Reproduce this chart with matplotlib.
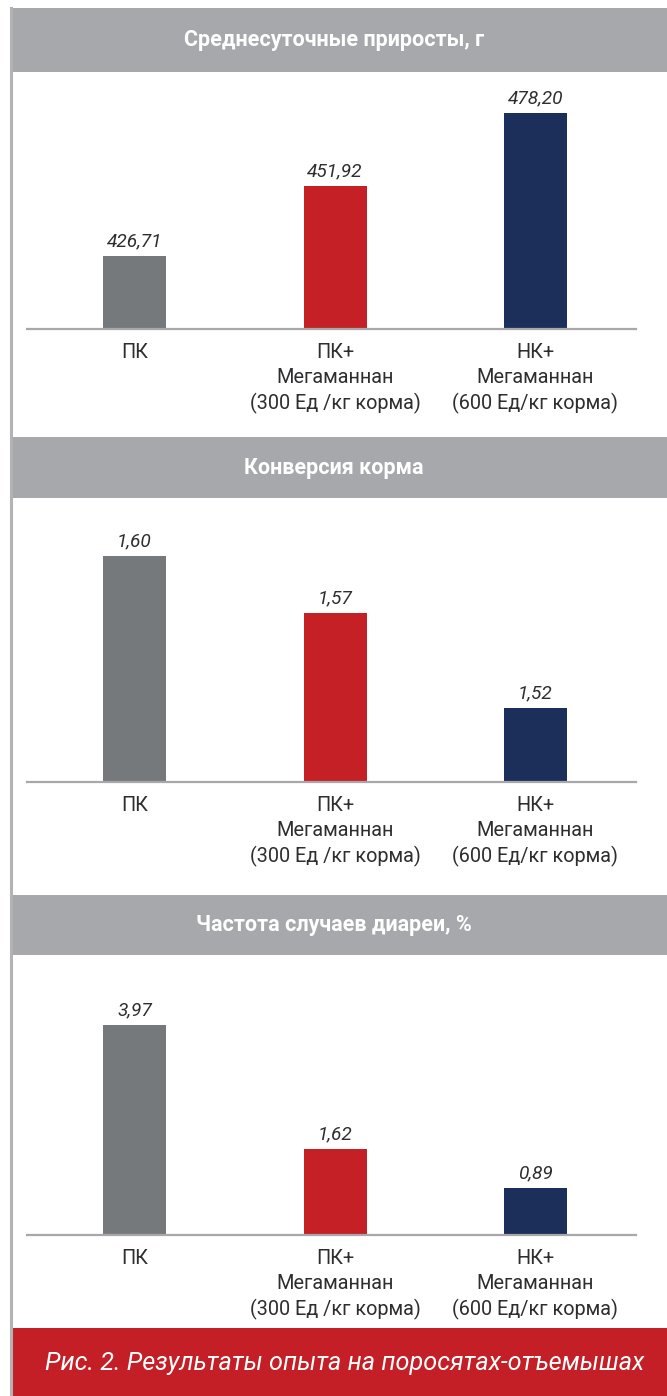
import matplotlib
matplotlib.use("Agg")
import matplotlib.pyplot as plt
from matplotlib.patches import Rectangle
from matplotlib.lines import Line2D

# ---- data ----
categories = ["ПК", "ПК+\nМегаманнан\n(300 Ед /кг корма)", "НК+\nМегаманнан\n(600 Ед/кг корма)"]
titles = ["Среднесуточные приросты, г", "Конверсия корма", "Частота случаев диареи, %"]
gain_values = [426.71, 451.92, 478.20]
conversion_values = [1.60, 1.57, 1.52]
diarrhea_values = [3.97, 1.62, 0.89]
value_labels = [["426,71", "451,92", "478,20"],
                ["1,60", "1,57", "1,52"],
                ["3,97", "1,62", "0,89"]]
caption = "Рис. 2. Результаты опыта на поросятах-отъемышах"

bar_colors = ["#76797c", "#c42026", "#1c2f5a"]
header_color = "#a7a8ab"
text_color = "#2e2e30"

W, H = 667, 1396
fig = plt.figure(figsize=(W / 100, H / 100), dpi=100)
fig.patch.set_facecolor("white")

def fx(px):
    return px / W

def fy(py):
    return 1 - py / H

# left vertical rule
fig.add_artist(Line2D([fx(11), fx(11)], [fy(8), fy(1396)], color="#b3b3b6", lw=2.2))

# header bands (px top, px bottom)
headers = [(8, 72), (437, 498), (895, 955)]
for (t, b), title in zip(headers, titles):
    fig.add_artist(Rectangle((fx(12), fy(b)), fx(667) - fx(12), fy(t) - fy(b),
                             transform=fig.transFigure, facecolor=header_color,
                             edgecolor="none"))
    fig.text(fx(334), fy((t + b) / 2), title, ha="center", va="center",
             color="white", fontsize=15.5, fontweight="bold", family="Roboto")

# caption band
fig.add_artist(Rectangle((fx(12), fy(1396)), fx(667) - fx(12), fy(1328) - fy(1396),
                         transform=fig.transFigure, facecolor="#c41f26", edgecolor="none"))
fig.text(fx(345), fy(1363), caption, ha="center", va="center", color="white",
         fontsize=18.2, style="italic", family="Roboto")

# panels: (top px, baseline px, values, ylim)
panels = [
    (72, 329, gain_values, (400.4, 400.4 + 257 / 2.78)),
    (498, 782, conversion_values, (1.481, 1.481 + 284 / 1900)),
    (955, 1235, diarrhea_values, (0.0, 280 / 53)),
]

x_left, x_right = 27, 636
scale = 200.5
xmin = -(134.5 - x_left) / scale
xmax = xmin + (x_right - x_left) / scale
bar_w = 63 / scale

for i, (top, base, vals, ylim) in enumerate(panels):
    ax = fig.add_axes([fx(x_left), fy(base), fx(x_right) - fx(x_left), fy(top) - fy(base)])
    ax.patch.set_alpha(0)
    xs = list(range(len(vals)))
    ax.bar(xs, vals, width=bar_w, color=bar_colors, zorder=2)
    ax.set_xlim(xmin, xmax)
    ax.set_ylim(*ylim)
    for s in ["top", "left", "right"]:
        ax.spines[s].set_visible(False)
    ax.spines["bottom"].set_color("#a8a8ab")
    ax.spines["bottom"].set_linewidth(1.6)
    ax.spines["bottom"].set_zorder(3)
    ax.set_yticks([])
    ax.set_xticks(xs)
    ax.set_xticklabels(categories, fontsize=14.3, color=text_color, family="Roboto",
                       linespacing=1.38)
    ax.tick_params(axis="x", length=0, pad=10)
    for x, v, lab in zip(xs, vals, value_labels[i]):
        ax.annotate(lab, (x, v), xytext=(0, 4), textcoords="offset points",
                    ha="center", va="bottom", fontsize=13.8, style="italic",
                    color=text_color, family="Roboto")

fig.savefig("out.png", dpi=100, facecolor="white")
